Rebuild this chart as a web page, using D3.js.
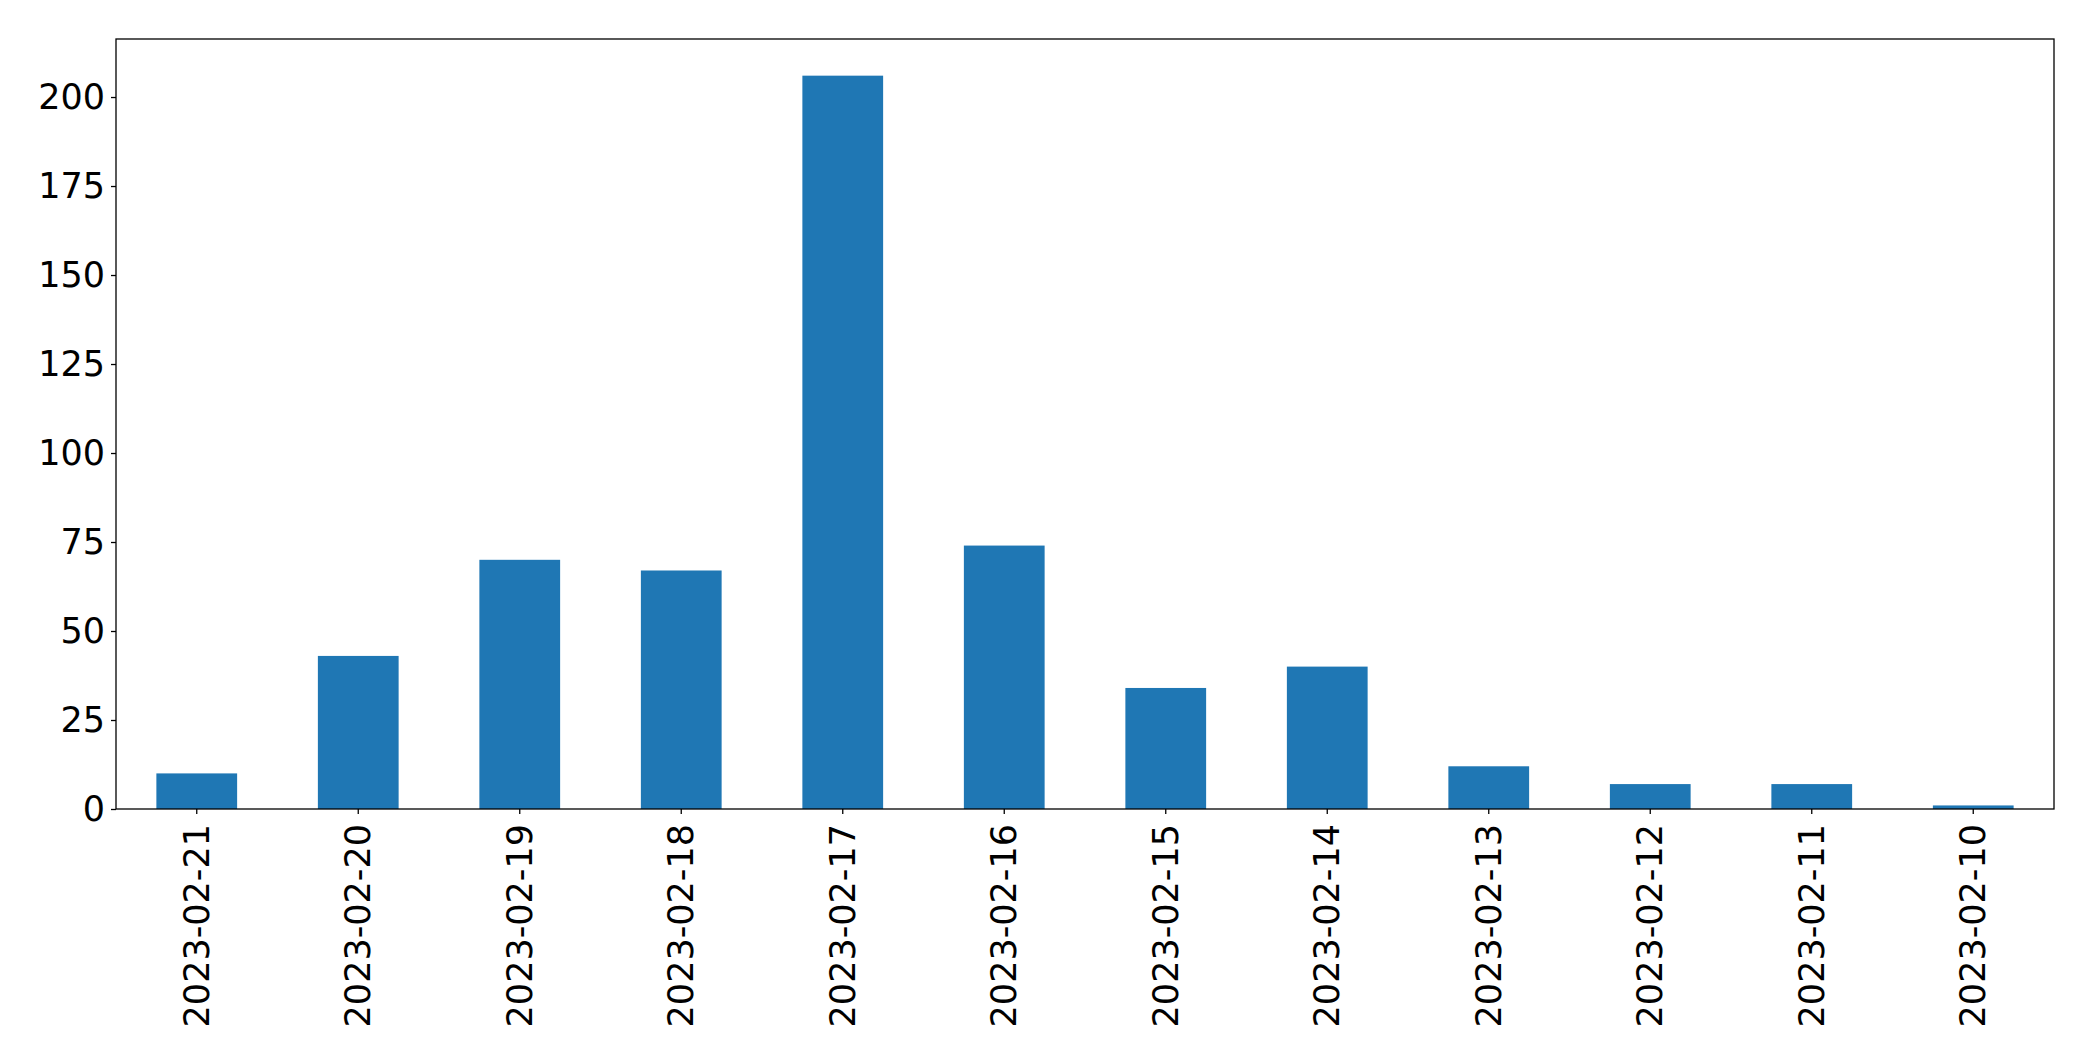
<!DOCTYPE html>
<html>
<head>
<meta charset="utf-8">
<script src="https://cdn.jsdelivr.net/npm/d3@7"></script>
<style>
  html, body { margin: 0; padding: 0; background: #fff; }
  svg { display: block; }
  text { font-family: "DejaVu Sans", sans-serif; fill: #000; }
</style>
</head>
<body>
<svg id="chart" width="2093" height="1061"></svg>
<script>
const categories = ["2023-02-21","2023-02-20","2023-02-19","2023-02-18","2023-02-17","2023-02-16","2023-02-15","2023-02-14","2023-02-13","2023-02-12","2023-02-11","2023-02-10"];
const values = [10, 43, 70, 67, 206, 74, 34, 40, 12, 7, 7, 1];
const yTicks = [0, 25, 50, 75, 100, 125, 150, 175, 200];

const W = 2093, H = 1061;
const m = { left: 116, right: 2054, top: 39, bottom: 809 };
const svg = d3.select("#chart");

const x = d3.scaleBand().domain(categories).range([m.left, m.right]).paddingInner(0.5).paddingOuter(0.25);
const yMax = d3.max(values) * 1.05;
const y = d3.scaleLinear().domain([0, yMax]).range([m.bottom, m.top]);

svg.append("g").selectAll("rect").data(values).join("rect")
  .attr("x", (d, i) => x(categories[i]))
  .attr("width", x.bandwidth())
  .attr("y", d => y(d))
  .attr("height", d => y(0) - y(d))
  .attr("fill", "#1f77b4");

// frame
svg.append("rect")
  .attr("x", m.left).attr("y", m.top)
  .attr("width", m.right - m.left).attr("height", m.bottom - m.top)
  .attr("fill", "none").attr("stroke", "#000").attr("stroke-width", 1.3);

const yAxis = d3.axisLeft(y).tickValues(yTicks).tickSize(5).tickPadding(6).tickFormat(d3.format("d"));
const gy = svg.append("g").attr("transform", `translate(${m.left},0)`).call(yAxis);
gy.select(".domain").remove();
gy.selectAll(".tick line").attr("stroke", "#000").attr("stroke-width", 1.3);
gy.selectAll(".tick text").style("font-size", "35px").attr("fill", "#000");

const xAxis = d3.axisBottom(x).tickSize(5).tickPadding(0);
const gx = svg.append("g").attr("transform", `translate(0,${m.bottom})`).call(xAxis);
gx.select(".domain").remove();
gx.selectAll(".tick line").attr("stroke", "#000").attr("stroke-width", 1.3);
gx.selectAll(".tick text")
  .style("font-size", "35px")
  .attr("fill", "#000")
  .attr("text-anchor", "end")
  .attr("dy", null)
  .attr("dominant-baseline", "central")
  .attr("transform", "translate(0,15) rotate(-90)")
  .attr("x", 0).attr("y", 0);
</script>
</body>
</html>
